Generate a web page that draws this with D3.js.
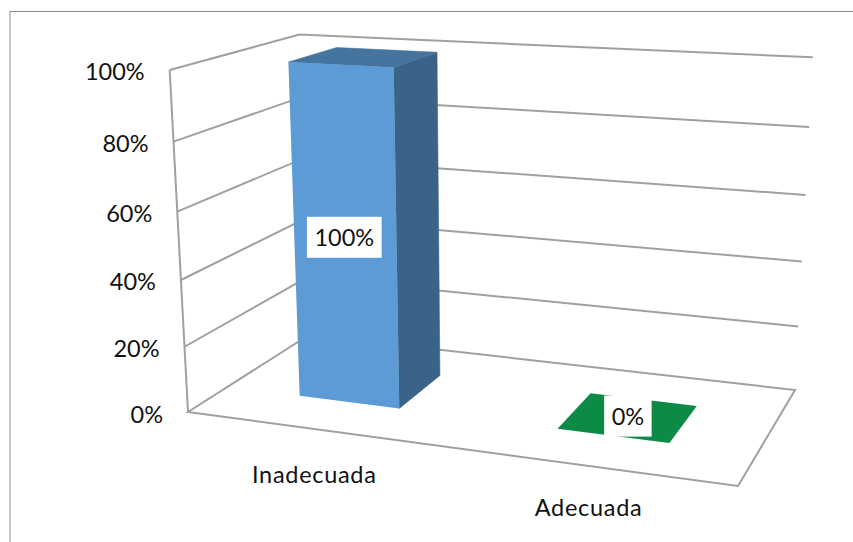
<!DOCTYPE html>
<html>
<head>
<meta charset="utf-8">
<script src="https://cdn.jsdelivr.net/npm/d3@7"></script>
<style>
html,body{margin:0;padding:0;background:#fff;}
svg{display:block;}
text{font-family:Lato,"Open Sans",sans-serif;fill:#111;}
</style>
</head>
<body>
<svg id="chart" width="853" height="542"></svg>
<script>
const categories = ["Inadecuada", "Adecuada"];
const values = [100, 0];
const dataLabels = ["100%", "0%"];
const tickValues = [0, 20, 40, 60, 80, 100];
const frontColors = ["#5b9bd5", "#0b8a44"];
const topColors = ["#44749f", "#0b8a44"];
const sideColors = ["#3a6488", "#0b8a44"];

const W = 853, H = 542;
const svg = d3.select("#chart").attr("viewBox", [0, 0, W, H]);

const defs = svg.append("defs");
defs.append("filter").attr("id", "soft").attr("x", "-5%").attr("y", "-5%").attr("width", "110%").attr("height", "110%")
  .append("feGaussianBlur").attr("stdDeviation", 0.7);

// Scales: position along the floor (0..1), depth (0..1) and height (0..1)
const uScale = d3.scaleBand().domain(categories).range([0, 1]).paddingInner(0.6).paddingOuter(0.3);
const zScale = d3.scaleLinear().domain([0, 100]).range([0, 1]);
const DEPTH = [0.3, 0.7];

// Perspective camera of the 3-D plot
const P = {a:465.3,b:165.8,i:-28,c:188,d:18.2,e:-28.4,j:-346,f:412,g:-0.1148,h:0.1451,k:-0.057};
function project(u, v, z) {
  const w = P.g*u + P.h*v + P.k*z + 1;
  return [(P.a*u + P.b*v + P.i*z + P.c)/w, (P.d*u + P.e*v + P.j*z + P.f)/w];
}
const line = d3.line();

// Outer frame
const frame = svg.append("g").attr("fill", "none");
frame.append("line").attr("x1", 9.5).attr("x2", W).attr("y1", 11.5).attr("y2", 11.5).attr("stroke", "#8c8c8c").attr("stroke-width", 1.2);
frame.append("line").attr("x1", 10).attr("x2", 10).attr("y1", 11).attr("y2", H).attr("stroke", "#b4b4b4").attr("stroke-width", 1.5);

const plot = svg.append("g").attr("filter", "url(#soft)");
const gridColor = "#a0a0a0";
const gridWidth = 2;

// Floor
plot.append("path")
  .attr("d", line([[0,0],[1,0],[1,1],[0,1]].map(([u,v]) => project(u,v,0))) + "Z")
  .attr("fill", "none").attr("stroke", gridColor).attr("stroke-width", gridWidth).attr("stroke-linejoin", "miter");

// Walls and gridlines
plot.append("g").selectAll("path").data(tickValues.filter(t => t > 0)).join("path")
  .attr("d", t => { const z = zScale(t); return line([project(0,0,z), project(0,1,z), project(1,1,z)]); })
  .attr("fill", "none").attr("stroke", gridColor).attr("stroke-width", gridWidth);
plot.append("path")
  .attr("d", line([project(0,0,0), project(0,0,1)]))
  .attr("fill", "none").attr("stroke", gridColor).attr("stroke-width", gridWidth);

// Bars
categories.forEach((c, idx) => {
  const u0 = uScale(c), u1 = u0 + uScale.bandwidth();
  const [v0, v1] = DEPTH, z = zScale(values[idx]);
  const g = plot.append("g");
  if (z > 0) {
    g.append("path").attr("fill", sideColors[idx]).attr("stroke", sideColors[idx]).attr("stroke-width", 0.6)
      .attr("d", line([project(u1,v0,0), project(u1,v1,0), project(u1,v1,z), project(u1,v0,z)]) + "Z");
    g.append("path").attr("fill", topColors[idx]).attr("stroke", topColors[idx]).attr("stroke-width", 0.6)
      .attr("d", line([project(u0,v0,z), project(u1,v0,z), project(u1,v1,z), project(u0,v1,z)]) + "Z");
    g.append("path").attr("fill", frontColors[idx])
      .attr("d", line([project(u0,v0,0), project(u1,v0,0), project(u1,v0,z), project(u0,v0,z)]) + "Z");
  } else {
    g.append("path").attr("fill", topColors[idx])
      .attr("d", line([project(u0,v0,z), project(u1,v0,z), project(u1,v1,z), project(u0,v1,z)]) + "Z");
  }
});

// Value-axis labels
const FONT = 23.5;
svg.append("g").selectAll("text").data(tickValues).join("text")
  .attr("x", t => project(0,0,zScale(t))[0] - 25)
  .attr("y", t => project(0,0,zScale(t))[1] + 1.5)
  .attr("text-anchor", "end").attr("dominant-baseline", "central")
  .attr("font-size", FONT).text(t => t + "%");

// Category labels
svg.append("g").selectAll("text").data(categories).join("text")
  .attr("x", c => project(uScale(c) + uScale.bandwidth()/2, 0, 0)[0] + 1)
  .attr("y", (c, i) => project(uScale(c) + uScale.bandwidth()/2, 0, 0)[1] + 45 - 4*i)
  .attr("text-anchor", "middle").attr("dominant-baseline", "central")
  .attr("letter-spacing", 0.7)
  .attr("font-size", FONT).text(c => c);

// Data labels in white boxes
const labels = svg.append("g");
categories.forEach((c, idx) => {
  const um = uScale(c) + uScale.bandwidth()/2, z = zScale(values[idx]);
  const [x, y] = z > 0 ? project(um, DEPTH[0], z/2) : project(um, (DEPTH[0]+DEPTH[1])/2, 0);
  const g = labels.append("g").attr("transform", `translate(${x - 0.5},${y - 1})`);
  const r = g.append("rect").attr("fill", "#fff");
  const t = g.append("text").attr("text-anchor", "middle").attr("dominant-baseline", "central")
    .attr("font-size", FONT).text(dataLabels[idx]);
  const w = t.node().getComputedTextLength() + 15;
  r.attr("x", -w/2).attr("y", -20.5).attr("width", w).attr("height", 41);
});
</script>
</body>
</html>
